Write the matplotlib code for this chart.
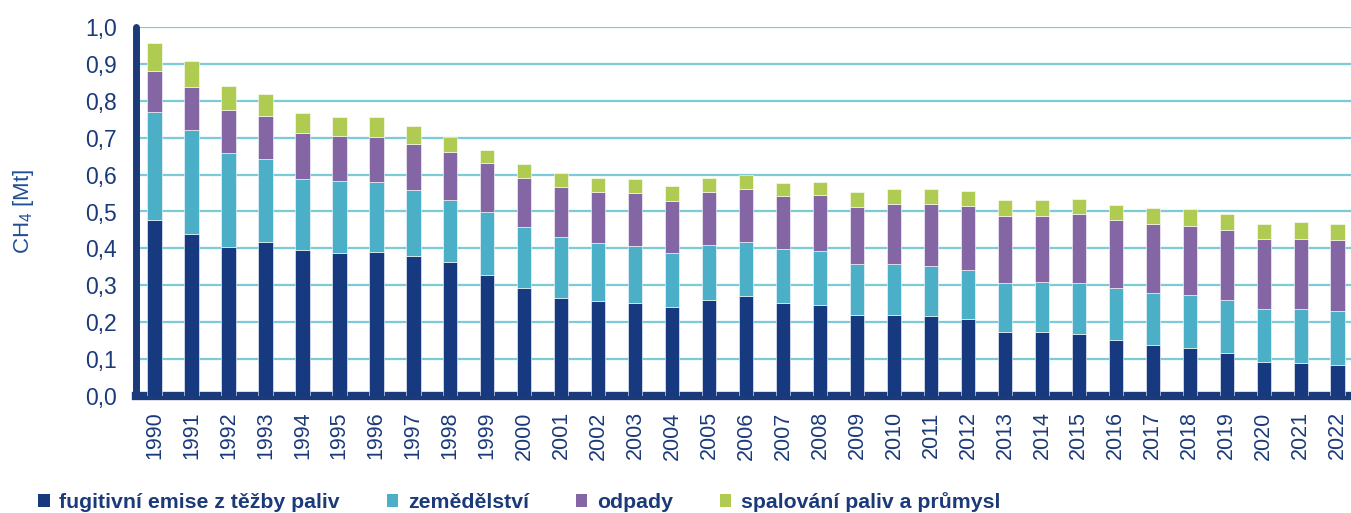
import matplotlib
matplotlib.use('Agg')
import matplotlib.pyplot as plt
from matplotlib.patches import Patch
import numpy as np

# cumulative tops (Mt CH4)
years = [str(y) for y in range(1990, 2023)]

top_fugitive = [0.478, 0.440, 0.405, 0.418, 0.395, 0.388, 0.391, 0.379, 0.363, 0.329,
                0.294, 0.266, 0.257, 0.253, 0.242, 0.261, 0.270, 0.252, 0.247, 0.219,
                0.220, 0.218, 0.210, 0.174, 0.174, 0.169, 0.153, 0.139, 0.131, 0.117,
                0.091, 0.090, 0.085]
top_agri     = [0.770, 0.721, 0.659, 0.642, 0.589, 0.583, 0.581, 0.558, 0.531, 0.500,
                0.458, 0.430, 0.414, 0.406, 0.388, 0.410, 0.416, 0.398, 0.394, 0.358,
                0.357, 0.352, 0.341, 0.306, 0.308, 0.306, 0.292, 0.279, 0.274, 0.260,
                0.235, 0.235, 0.230]
top_waste    = [0.880, 0.837, 0.776, 0.759, 0.713, 0.704, 0.703, 0.684, 0.661, 0.631,
                0.591, 0.566, 0.554, 0.549, 0.529, 0.554, 0.562, 0.543, 0.544, 0.513,
                0.521, 0.519, 0.515, 0.489, 0.489, 0.492, 0.478, 0.467, 0.462, 0.450,
                0.425, 0.425, 0.422]
top_total    = [0.957, 0.908, 0.839, 0.818, 0.768, 0.755, 0.755, 0.733, 0.702, 0.668,
                0.630, 0.605, 0.592, 0.587, 0.568, 0.591, 0.598, 0.578, 0.581, 0.552,
                0.561, 0.560, 0.556, 0.532, 0.532, 0.534, 0.518, 0.509, 0.506, 0.492,
                0.467, 0.472, 0.466]

fugitive = np.array(top_fugitive)
agri = np.array(top_agri) - np.array(top_fugitive)
waste = np.array(top_waste) - np.array(top_agri)
combustion = np.array(top_total) - np.array(top_waste)

labels = ['fugitivní emise z těžby paliv', 'zemědělství', 'odpady', 'spalování paliv a průmysl']
colors = ['#16397f', '#4bafc8', '#8566a5', '#b0cb52']
navy = '#1b3a7a'

plt.rcParams['font.family'] = ['Liberation Sans', 'DejaVu Sans']

fig = plt.figure(figsize=(13.51, 5.13), dpi=100)
ax = fig.add_axes([136 / 1351, 117 / 513, 1215 / 1351, 369 / 513])

x = np.arange(len(years))
w = 0.39
bottom = np.zeros(len(years))
for vals, col in zip([fugitive, agri, waste, combustion], colors):
    ax.bar(x, vals, w, bottom=bottom, color=col, edgecolor='white', linewidth=0.4, zorder=3)
    bottom = bottom + vals

ax.set_xlim(-0.5, 32.36)
ax.set_ylim(0, 1.0)
yt = np.arange(0, 1.01, 0.1)
ax.set_yticks(yt)
ax.set_yticklabels([('%.1f' % v).replace('.', ',') for v in yt])
ax.set_xticks(x)
ax.set_xticklabels(years, rotation=90)

ax.yaxis.grid(True, color='#7ccbd8', linewidth=1.6, zorder=0)
ax.set_axisbelow(True)

for s in ['top', 'right']:
    ax.spines[s].set_visible(False)
ax.spines['left'].set_color(navy)
ax.spines['left'].set_linewidth(5)
ax.spines['bottom'].set_color(navy)
ax.spines['bottom'].set_linewidth(6)
ax.spines['left'].set_capstyle('round')

ax.tick_params(axis='both', length=0, labelcolor=navy)
ax.tick_params(axis='y', pad=14, labelsize=16.5)
ax.tick_params(axis='x', pad=11, labelsize=15.5)

ax.set_ylabel(r'$\mathregular{CH_4}$ [Mt]', color='#1f4e96', fontsize=16)
ax.yaxis.set_label_coords(-0.082, 0.5)

handles = [Patch(facecolor=c, edgecolor='none') for c in colors]
leg = fig.legend(handles, labels, loc='center left', bbox_to_anchor=(38 / 1351, 1 - 502 / 513),
                 ncol=4, frameon=False, handlelength=0.55, handleheight=0.55,
                 handletextpad=0.45, columnspacing=2.2, borderpad=0, borderaxespad=0,
                 prop={'family': ['Liberation Sans Narrow', 'Liberation Sans'],
                       'weight': 'bold', 'size': 15.3})
for t in leg.get_texts():
    t.set_color(navy)

fig.savefig('out.png', dpi=100)
